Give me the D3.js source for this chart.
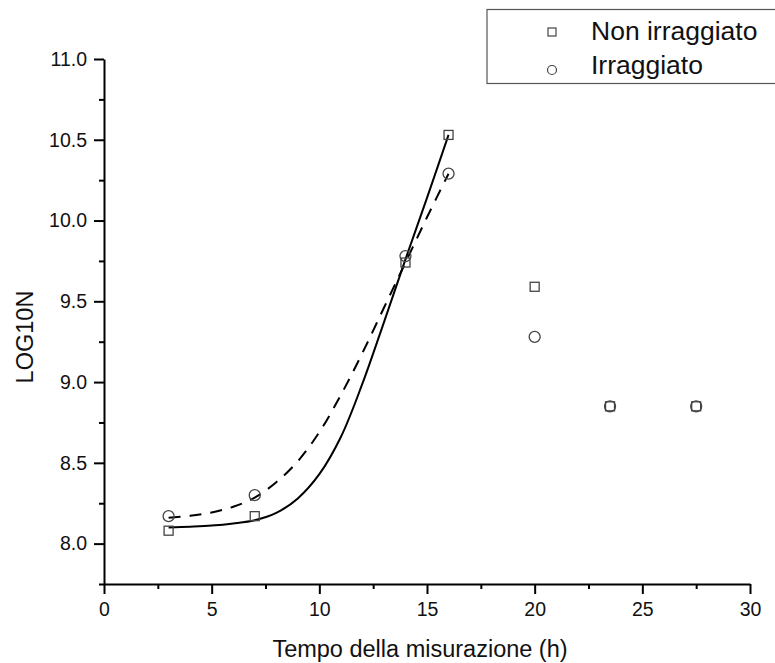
<!DOCTYPE html>
<html lang="it">

<head>
    <meta charset="UTF-8">
    <title>LOG10N</title>
    <style>
        body {
            margin: 0;
            background: #fff;
        }

        svg {
            display: block;
            font-family: "Liberation Sans", Arial, sans-serif;
        }
    </style>
</head>

<body>
    <div id="chart"></div>

    <script src="https://cdn.jsdelivr.net/npm/d3@7"></script>
    <script>
        // measured points
        const hours = [3, 7, 14, 16, 20, 23.5, 27.5];
        const nonIrraggiato = [8.08, 8.17, 9.74, 10.53, 9.59, 8.85, 8.85];
        const irraggiato = [8.17, 8.30, 9.78, 10.29, 9.28, 8.85, 8.85];

        // fitted curves
        const fitHours = [3, 4, 5, 6, 7, 8, 9, 10, 11, 12, 13, 14, 15, 16];
        const fitNonIrraggiato = [8.10, 8.105, 8.112, 8.125, 8.145, 8.19, 8.28, 8.43, 8.66, 8.99, 9.37, 9.76, 10.14, 10.53];
        const fitIrraggiato = [8.16, 8.172, 8.193, 8.228, 8.285, 8.38, 8.51, 8.69, 8.92, 9.18, 9.46, 9.74, 10.02, 10.29];

        const legendLabels = ['Non irraggiato', 'Irraggiato'];
        const xTicks = [0, 5, 10, 15, 20, 25, 30];
        const yTicks = [8.0, 8.5, 9.0, 9.5, 10.0, 10.5, 11.0];

        const width = 775;
        const height = 663;
        const margin = { top: 59, right: 25, bottom: 79, left: 104 };
        const innerWidth = width - margin.left - margin.right;
        const innerHeight = height - margin.top - margin.bottom;
        const font = '"Liberation Sans", Arial, sans-serif';

        const svg = d3.select('#chart')
            .append('svg')
            .attr('width', width)
            .attr('height', height);

        const g = svg.append('g')
            .attr('transform', `translate(${margin.left}, ${margin.top})`);

        const x = d3.scaleLinear().domain([0, 30]).range([0, innerWidth]);
        const y = d3.scaleLinear().domain([7.75, 11]).range([innerHeight, 0]);

        // minor ticks first
        g.append('g')
            .attr('transform', `translate(0, ${innerHeight})`)
            .call(d3.axisBottom(x).tickValues(d3.range(2.5, 30, 5)).tickSize(5))
            .call(a => a.select('.domain').remove())
            .call(a => a.selectAll('text').remove());
        g.append('g')
            .call(d3.axisLeft(y).tickValues(d3.range(7.75, 11, 0.5)).tickSize(5))
            .call(a => a.select('.domain').remove())
            .call(a => a.selectAll('text').remove());

        // major axes
        const xAxis = g.append('g')
            .attr('transform', `translate(0, ${innerHeight})`)
            .call(d3.axisBottom(x).tickValues(xTicks).tickSize(10).tickSizeOuter(0).tickPadding(8).tickFormat(d3.format('d')));
        const yAxis = g.append('g')
            .call(d3.axisLeft(y).tickValues(yTicks).tickSize(10).tickSizeOuter(0).tickPadding(7).tickFormat(d3.format('.1f')));

        svg.selectAll('.tick line, .domain')
            .attr('stroke', '#000')
            .attr('stroke-width', 2);
        [xAxis, yAxis].forEach(a => {
            a.attr('font-family', font).attr('font-size', 19.5);
            a.selectAll('text').attr('fill', '#111');
        });

        // axis titles
        svg.append('text')
            .text('Tempo della misurazione (h)')
            .attr('x', 420)
            .attr('y', 657)
            .attr('font-size', 23.5)
            .attr('fill', '#111')
            .attr('text-anchor', 'middle');

        svg.append('text')
            .text('LOG10N')
            .attr('transform', 'translate(33, 337) rotate(-90)')
            .attr('font-size', 23.5)
            .attr('fill', '#111')
            .attr('text-anchor', 'middle');

        // fit lines
        const line = d3.line()
            .x(d => x(d[0]))
            .y(d => y(d[1]))
            .curve(d3.curveCatmullRom);

        g.append('path')
            .datum(d3.zip(fitHours, fitNonIrraggiato))
            .attr('d', line)
            .attr('fill', 'none')
            .attr('stroke', '#000')
            .attr('stroke-width', 2);

        g.append('path')
            .datum(d3.zip(fitHours, fitIrraggiato))
            .attr('d', line)
            .attr('fill', 'none')
            .attr('stroke', '#000')
            .attr('stroke-width', 2)
            .attr('stroke-dasharray', '12,9');

        // markers
        const markerColor = '#444';
        g.append('g')
            .selectAll('rect')
            .data(d3.zip(hours, nonIrraggiato))
            .join('rect')
            .attr('x', d => x(d[0]) - 4.5)
            .attr('y', d => y(d[1]) - 4.5)
            .attr('width', 9)
            .attr('height', 9)
            .attr('fill', 'none')
            .attr('stroke', markerColor)
            .attr('stroke-width', 1.3);

        g.append('g')
            .selectAll('circle')
            .data(d3.zip(hours, irraggiato))
            .join('circle')
            .attr('cx', d => x(d[0]))
            .attr('cy', d => y(d[1]))
            .attr('r', 5.5)
            .attr('fill', 'none')
            .attr('stroke', markerColor)
            .attr('stroke-width', 1.3);

        // legend, its box runs past the right edge like the original
        const legend = svg.append('g');
        legend.append('rect')
            .attr('x', 487)
            .attr('y', 9.5)
            .attr('width', 320)
            .attr('height', 74)
            .attr('fill', '#fff')
            .attr('stroke', '#555')
            .attr('stroke-width', 1.2);

        legend.append('rect')
            .attr('x', 548)
            .attr('y', 28)
            .attr('width', 8)
            .attr('height', 8)
            .attr('fill', 'none')
            .attr('stroke', markerColor)
            .attr('stroke-width', 1.2);
        legend.append('circle')
            .attr('cx', 552)
            .attr('cy', 70)
            .attr('r', 4.5)
            .attr('fill', 'none')
            .attr('stroke', markerColor)
            .attr('stroke-width', 1.2);

        legend.selectAll('text')
            .data(legendLabels)
            .join('text')
            .text(d => d)
            .attr('x', 591)
            .attr('y', (d, i) => [39.5, 74][i])
            .attr('font-size', 26.5)
            .attr('fill', '#111');
    </script>
</body>

</html>
